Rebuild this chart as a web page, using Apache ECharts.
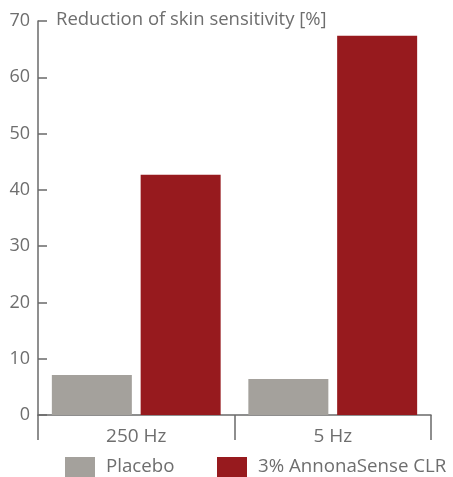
<!DOCTYPE html>
<html>
<head>
<meta charset="utf-8">
<script src="https://cdn.jsdelivr.net/npm/echarts@6/dist/echarts.min.js"></script>
<style>
  html, body { margin: 0; padding: 0; background: #fff; }
  #chart { width: 453px; height: 477px; }
</style>
</head>
<body>
<div id="chart"></div>
<script>
// Frequencies tested
const categories = ['250 Hz', '5 Hz'];
// Reduction of skin sensitivity [%]
const placeboValues = [7.1, 6.4];
const annonaValues = [42.7, 67.4];
const seriesNames = ['Placebo', '3% AnnonaSense CLR'];
const yTicks = { min: 0, max: 70, interval: 10 };

const FONT = 'Open Sans';
const TEXT = '#6e6e6e';
const AXIS = '#6a6a6a';

const chart = echarts.init(document.getElementById('chart'), null, { renderer: 'canvas' });

// one legend entry per series, each placed on its own
const legendBase = {
  top: 457,
  padding: 0,
  width: 260,
  itemWidth: 30,
  itemHeight: 20,
  icon: 'rect',
  textStyle: { fontFamily: FONT, fontSize: 18.7, color: TEXT, padding: [0, 0, 0, 6] }
};

chart.setOption({
  animation: false,
  backgroundColor: '#ffffff',
  title: {
    text: 'Reduction of skin sensitivity [%]',
    left: 51,
    top: 5,
    textStyle: { fontFamily: FONT, fontSize: 18.5, fontWeight: 'normal', color: TEXT }
  },
  legend: [
    Object.assign({}, legendBase, { left: 65, data: [seriesNames[0]] }),
    Object.assign({}, legendBase, { left: 217, data: [seriesNames[1]] })
  ],
  grid: { left: 38, right: 22, top: 21, bottom: 62, containLabel: false },
  xAxis: {
    type: 'category',
    data: categories,
    boundaryGap: true,
    axisLine: { show: true, lineStyle: { color: AXIS, width: 1.5 } },
    axisTick: { show: true, inside: false, length: 25, lineStyle: { color: AXIS, width: 1.5 } },
    axisLabel: { fontFamily: FONT, fontSize: 19, color: TEXT, margin: 12 }
  },
  yAxis: {
    type: 'value',
    min: yTicks.min,
    max: yTicks.max,
    interval: yTicks.interval,
    splitLine: { show: false },
    axisLine: { show: true, lineStyle: { color: AXIS, width: 1.5 } },
    axisTick: { show: true, inside: true, length: 9, lineStyle: { color: AXIS, width: 1.5 } },
    axisLabel: { fontFamily: FONT, fontSize: 18, color: TEXT, margin: 8 }
  },
  series: [
    {
      name: seriesNames[0],
      type: 'bar',
      data: placeboValues,
      barWidth: 80,
      barGap: '11%',
      itemStyle: { color: '#a4a19c' }
    },
    {
      name: seriesNames[1],
      type: 'bar',
      data: annonaValues,
      barWidth: 80,
      itemStyle: { color: '#971a1e' }
    }
  ]
});
</script>
</body>
</html>
